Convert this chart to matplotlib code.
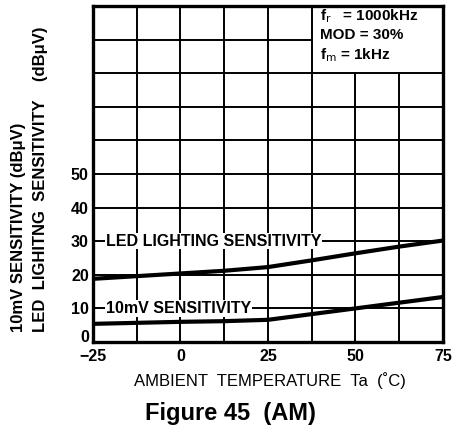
import matplotlib
matplotlib.use('Agg')
import matplotlib.pyplot as plt
import matplotlib.transforms as mtrans
from matplotlib.patches import Rectangle

# 폰트 설정
plt.rcParams['font.family'] = ['Liberation Sans', 'DejaVu Sans']

# 데이터
temp = [-25, -12.5, 0, 12.5, 25, 37.5, 50, 62.5, 75]
led_sens = [18.8, 19.6, 20.4, 21.2, 22.3, 24.3, 26.4, 28.4, 30.2]
mv10_sens = [5.4, 5.7, 6.0, 6.2, 6.6, 8.3, 10.0, 11.7, 13.4]
xticks = [-25, 0, 25, 50, 75]
xticklabels = ['\u221225', '0', '25', '50', '75']
yticks = [0, 10, 20, 30, 40, 50]

fig = plt.figure(figsize=(4.6, 4.34), dpi=100)
ax = fig.add_axes([0.202, 0.212, 0.761, 0.774])

ax.set_xlim(-25, 75)
ax.set_ylim(0, 100)

# 격자
for x in temp[1:-1]:
    ax.axvline(x, color='black', lw=1.4, zorder=1)
for y in range(10, 100, 10):
    ax.axhline(y, color='black', lw=1.4, zorder=1)

# 조건 박스 (오른쪽 위)
ax.add_patch(Rectangle((37.5 + 0.3, 80 + 0.4), 37.2, 19.6, facecolor='white',
                       edgecolor='none', zorder=2))
ax.text(39.8, 99.6, 'f$_{\\rm r}$   = 1000kHz\nMOD = 30%\nf$_{\\rm m}$ = 1kHz',
        fontsize=11, fontweight='bold', va='top', ha='left', zorder=3,
        linespacing=1.3)

# 곡선
ax.plot(temp, led_sens, color='black', lw=3, zorder=4)
ax.plot(temp, mv10_sens, color='black', lw=3, zorder=4)

ax.text(-21.3, 30, 'LED LIGHTING SENSITIVITY', fontsize=11.5, fontweight='bold',
        va='center', ha='left', zorder=3,
        bbox=dict(facecolor='white', edgecolor='none', pad=0.5))
ax.text(-21.3, 10, '10mV SENSITIVITY', fontsize=11.5, fontweight='bold',
        va='center', ha='left', zorder=3,
        bbox=dict(facecolor='white', edgecolor='none', pad=0.5))

for s in ax.spines.values():
    s.set_linewidth(2.4)
    s.set_zorder(5)

ax.set_xticks(xticks)
ax.set_xticklabels(xticklabels)
ax.set_yticks(yticks)
ax.tick_params(length=0, labelsize=11.5, pad=3)
ax.tick_params(axis='x', pad=5)
for lab in ax.get_xticklabels() + ax.get_yticklabels():
    lab.set_fontweight('bold')
# "0" 라벨을 조금 위로
zero_lab = ax.get_yticklabels()[0]
zero_lab.set_transform(zero_lab.get_transform() +
                       mtrans.ScaledTranslation(0, 4 / 72, fig.dpi_scale_trans))

# x축 라벨
fig.text(0.587, 0.124, 'AMBIENT  TEMPERATURE  Ta  (\u02daC)', fontsize=12,
         ha='center', va='center')

# y축 라벨 두 줄
fig.text(0.04, 0.235, '10mV SENSITIVITY (dB\u03bcV)', rotation=90, fontsize=12,
         fontweight='bold', ha='center', va='bottom')
fig.text(0.088, 0.235, 'LED  LIGHITNG  SENSITIVITY    (dB\u03bcV)', rotation=90,
         fontsize=12, fontweight='bold', ha='center', va='bottom')

fig.text(0.5, 0.048, 'Figure 45  (AM)', fontsize=17, fontweight='bold',
         ha='center', va='center')

plt.savefig('out.png', dpi=100)
